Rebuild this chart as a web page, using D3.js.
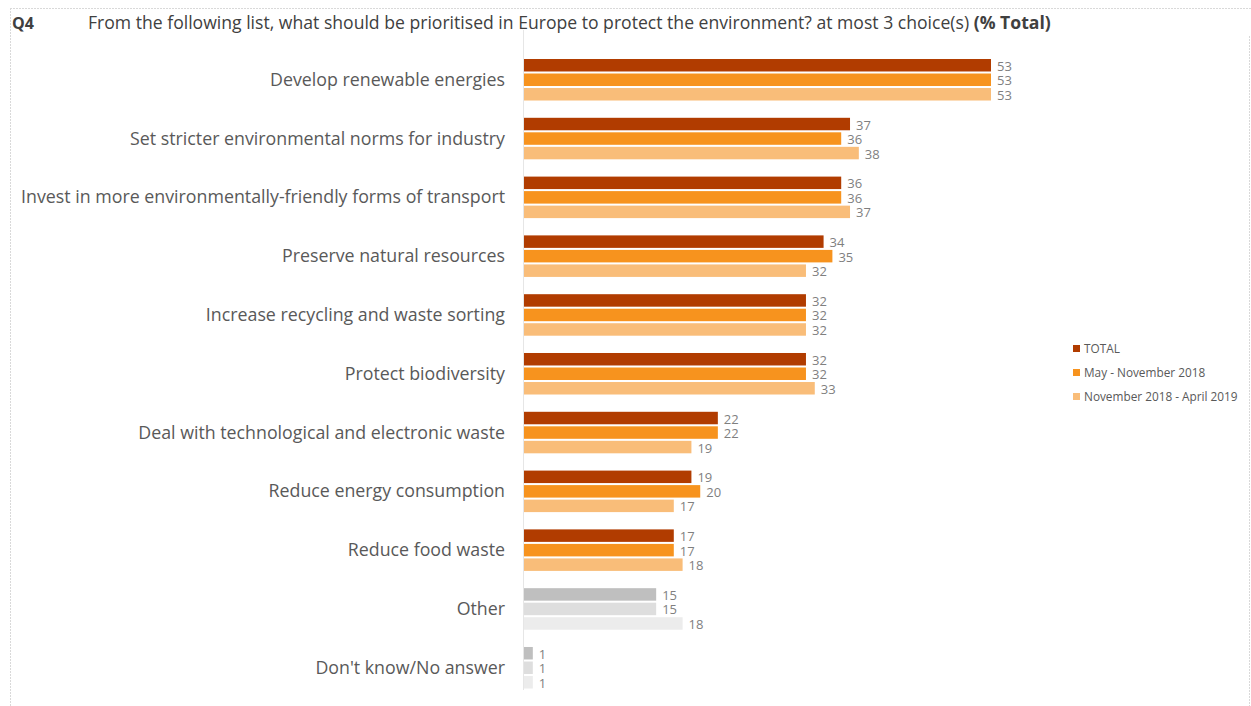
<!DOCTYPE html>
<html>
<head>
<meta charset="utf-8">
<script src="https://d3js.org/d3.v7.min.js"></script>
<style>
  body { margin: 0; background: #fff; }
  text { font-family: "Open Sans", "Noto Sans", sans-serif; }
</style>
</head>
<body>
<script>
const categories = [
  'Develop renewable energies',
  'Set stricter environmental norms for industry',
  'Invest in more environmentally-friendly forms of transport',
  'Preserve natural resources',
  'Increase recycling and waste sorting',
  'Protect biodiversity',
  'Deal with technological and electronic waste',
  'Reduce energy consumption',
  'Reduce food waste',
  'Other',
  "Don't know/No answer"
];
const seriesNames = ['TOTAL', 'May - November 2018', 'November 2018 - April 2019'];
const total  = [53, 37, 36, 34, 32, 32, 22, 19, 17, 15, 1];
const may18  = [53, 36, 36, 35, 32, 32, 22, 20, 17, 15, 1];
const nov18  = [53, 38, 37, 32, 32, 33, 19, 17, 18, 18, 1];
const seriesValues = [total, may18, nov18];
const seriesColors = ['#b13c00', '#f7931e', '#f9bd79'];
const greyColors = ['#bfbfbf', '#dedede', '#ececec'];
const greyCats = ['Other', "Don't know/No answer"];

const W = 1251, H = 706;
const svg = d3.select('body').append('svg').attr('width', W).attr('height', H);

// frame lines
svg.append('line').attr('x1', 10).attr('x2', W).attr('y1', 8.5).attr('y2', 8.5)
  .attr('stroke', '#d9d9d9').attr('stroke-dasharray', '2,1');
svg.append('line').attr('x1', 10.5).attr('x2', 10.5).attr('y1', 8).attr('y2', H)
  .attr('stroke', '#d9d9d9').attr('stroke-dasharray', '2,1');
svg.append('line').attr('x1', 1249.5).attr('x2', 1249.5).attr('y1', 36).attr('y2', H)
  .attr('stroke', '#d9d9d9').attr('stroke-dasharray', '2,1');

// title
const title = svg.append('text').attr('x', 12).attr('y', 29).attr('fill', '#404040');
title.append('tspan').attr('font-weight', 'bold').attr('font-size', 16).text('Q4');
title.append('tspan').attr('x', 88).attr('font-size', 17.6)
  .text('From the following list, what should be prioritised in Europe to protect the environment? at most 3 choice(s) ');
title.append('tspan').attr('font-weight', 'bold').attr('font-size', 17.6).text('(% Total)');

const x = d3.scaleLinear().domain([0, 53]).range([523, 990]);
const y = d3.scaleBand().domain(categories).range([59, 688.5]).paddingInner(0.294).paddingOuter(0);
const ySub = d3.scaleBand().domain(d3.range(3)).range([0, y.bandwidth()]).paddingInner(0.14);

// axis line
svg.append('line').attr('x1', 523.5).attr('x2', 523.5).attr('y1', 30).attr('y2', 690)
  .attr('stroke', '#e6e6e6');

const rows = [];
categories.forEach((c, i) => {
  seriesValues.forEach((vals, s) => rows.push({ cat: c, s: s, v: vals[i] }));
});

const fillOf = d => greyCats.includes(d.cat) ? greyColors[d.s] : seriesColors[d.s];

svg.selectAll('rect.bar').data(rows).enter().append('rect')
  .attr('class', 'bar')
  .attr('x', x(0) + 1)
  .attr('y', d => y(d.cat) + ySub(d.s))
  .attr('width', d => x(d.v) - x(0))
  .attr('height', ySub.bandwidth())
  .attr('fill', fillOf);

svg.selectAll('text.val').data(rows).enter().append('text')
  .attr('class', 'val')
  .attr('x', d => x(d.v) + 7)
  .attr('y', d => y(d.cat) + ySub(d.s) + ySub.bandwidth() / 2 + 5.5)
  .attr('font-size', 13)
  .attr('fill', '#7f7f7f')
  .text(d => d.v);

svg.selectAll('text.cat').data(categories).enter().append('text')
  .attr('class', 'cat')
  .attr('x', 505)
  .attr('y', d => y(d) + y.bandwidth() / 2 + 6)
  .attr('text-anchor', 'end')
  .attr('font-size', 17.8)
  .attr('fill', '#595959')
  .text(d => d);

// legend
const lg = svg.append('g');
seriesNames.forEach((n, i) => {
  lg.append('rect').attr('x', 1073).attr('y', 345 + i * 24).attr('width', 7).attr('height', 7)
    .attr('fill', seriesColors[i]);
  lg.append('text').attr('x', 1084).attr('y', 353 + i * 24).attr('font-size', 11.8)
    .attr('fill', '#595959').text(n);
});
</script>
</body>
</html>
